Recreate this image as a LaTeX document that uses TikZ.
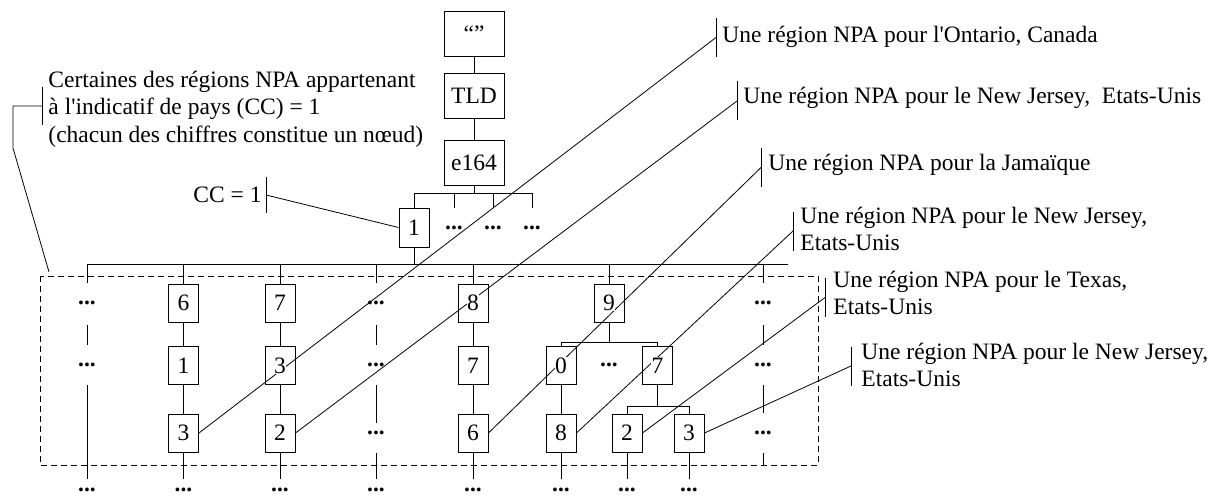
\documentclass[tikz,border=0pt]{standalone}
\usepackage{fontspec}
\setmainfont{Liberation Serif}[Ligatures=TeXOff]
\usetikzlibrary{calc}
\pgfdeclarelayer{bg}
\pgfsetlayers{bg,main}
\newcommand\wb[1]{{\setlength{\fboxsep}{0.6pt}\colorbox{white}{#1}}}
\newcommand\tstrut{\rule{0pt}{18pt}}
\begin{document}
\begin{tikzpicture}[x=1pt,y=-1pt, line width=0.9pt,
  font=\fontsize{23.5}{27.3}\selectfont,
  tbox/.style={draw, minimum width=60, minimum height=45, inner sep=0},
  dbox/.style={draw, minimum width=30, minimum height=38, inner sep=0},
  elip/.style={inner sep=0, font=\fontsize{23.5}{27.3}\selectfont\bfseries},
  txt/.style={inner sep=0, anchor=north west, align=left},
  leader/.style={line width=0.8pt},
  dashbox/.style={dash pattern=on 6pt off 4pt, line width=0.9pt},
]
\useasboundingbox (0,0) rectangle (1225,497);

% top chain
\node[tbox] (root) at (474,34) {“”};
\node[tbox] (tld) at (474,95.5) {TLD};
\node[tbox] (e164) at (474,163) {e164};
\draw (root) -- (tld);
\draw (tld) -- (e164);
\coordinate (br0) at (474,193);
\coordinate (br0l) at (414,193);
\coordinate (br0r) at (532,193);
\draw (e164.south) -- (br0);
\draw (br0l) -- (br0r);
\node[dbox, minimum height=39] (cc) at (414,227.5) {\wb{1}};
\draw (br0l) -- (cc.north);
\foreach \x/\n in {454/la,493/lb,532/lc}{
  \draw (\x,193) -- (\x,208);
  \node[elip] (\n) at (\x,228) {...};
}

% bus
\coordinate (bus) at (414,264);
\draw (cc.south) -- (bus);
\draw (87,264) -- (788,264);

% dashed region
\draw[dashbox] (40,276) rectangle (818,465);

% column A (dots)
\draw (87,264) -- (87,283);
\node[elip] (a1) at (87,303) {...};
\draw (87,325) -- (87,345);
\node[elip] (a2) at (87,365) {...};
\draw (87,385) -- (87,479);
\node[elip] (a4) at (87,490) {...};

% column B 6-1-3
\node[dbox] (b1) at (183.5,303) {\wb{6}};
\node[dbox] (b2) at (183.5,365.5) {\wb{1}};
\node[dbox] (b3) at (183.5,433) {\wb{3}};
\draw (183.5,264) -- (b1.north);
\draw (b1) -- (b2);
\draw (b2) -- (b3);
\draw (b3.south) -- (183.5,479);
\node[elip] (b4) at (183.5,490) {...};

% column C 7-3-2
\node[dbox] (c1) at (280,303) {\wb{7}};
\node[dbox] (c2) at (280,365.5) {\wb{3}};
\node[dbox] (c3) at (280,433) {\wb{2}};
\draw (280,264) -- (c1.north);
\draw (c1) -- (c2);
\draw (c2) -- (c3);
\draw (c3.south) -- (280,479);
\node[elip] (c4) at (280,490) {...};

% column D (dots)
\draw (376,264) -- (376,283);
\node[elip] (d1) at (376,303) {...};
\draw (376,325) -- (376,345);
\node[elip] (d2) at (376,365) {...};
\draw (376,385) -- (376,423);
\node[elip] (d3) at (376,433) {...};
\draw (376,453) -- (376,479);
\node[elip] (d4) at (376,490) {...};

% column E 8-7-6
\node[dbox] (e1) at (473,303) {\wb{8}};
\node[dbox] (e2) at (473,365.5) {\wb{7}};
\node[dbox] (e3) at (473,433) {\wb{6}};
\draw (473,264) -- (e1.north);
\draw (e1) -- (e2);
\draw (e2) -- (e3);
\draw (e3.south) -- (473,479);
\node[elip] (e4) at (473,490) {...};

% column F 9 ...
\node[dbox] (f1) at (609,303) {\wb{9}};
\draw (609,264) -- (f1.north);
\coordinate (fbr) at (609,342);
\draw (f1.south) -- (fbr);
\draw (561,342) -- (657.5,342);
\node[dbox] (f2) at (561,365.5) {\wb{0}};
\node[elip] (fd) at (609,365) {...};
\node[dbox] (f3) at (657.5,365.5) {\wb{7}};
\draw (561,342) -- (f2.north);
\draw (657.5,342) -- (f3.north);
\node[dbox] (f4) at (561,433) {\wb{8}};
\draw (f2) -- (f4);
\draw (f4.south) -- (561,479);
\node[elip] (f4d) at (561,490) {...};
\coordinate (gbr) at (657.5,406);
\draw (f3.south) -- (gbr);
\draw (627,406) -- (689,406);
\node[dbox] (f5) at (627,433) {\wb{2}};
\node[dbox] (f6) at (689,433) {\wb{3}};
\draw (627,406) -- (f5.north);
\draw (689,406) -- (f6.north);
\draw (f5.south) -- (627,479);
\draw (f6.south) -- (689,479);
\node[elip] (f5d) at (627,490) {...};
\node[elip] (f6d) at (689,490) {...};

% column G (dots)
\draw (763,264) -- (763,283);
\node[elip] (g1) at (763,303) {...};
\draw (763,325) -- (763,345);
\node[elip] (g2) at (763,365) {...};
\draw (763,385) -- (763,413);
\node[elip] (g3) at (763,433) {...};
\draw (763,453) -- (763,465);

% texts
\node[txt] (tl) at (48,69) {\tstrut Certaines des régions NPA appartenant\\à l'indicatif de pays (CC) = 1\\(chacun des chiffres constitue un nœud)};
\node[inner sep=0, anchor=base east] (tcc) at (262,203) {CC = 1};
\node[txt] (t1) at (722,24) {\tstrut Une région NPA pour l'Ontario, Canada};
\node[txt] (t2) at (743,85) {\tstrut Une région NPA pour le New Jersey,\ \ Etats-Unis};
\node[txt] (t3) at (768,152) {\tstrut Une région NPA pour la Jamaïque};
\node[txt] (t4) at (800,205) {\tstrut Une région NPA pour le New Jersey,\\Etats-Unis};
\node[txt] (t5) at (833,269) {\tstrut Une région NPA pour le Texas,\\Etats-Unis};
\node[txt] (t6) at (861,341) {\tstrut Une région NPA pour le New Jersey,\\Etats-Unis};

% bars
\coordinate (kl) at (42,106);
\coordinate (kc) at (266,195);
\coordinate (k1) at (716,37.5);
\coordinate (k2) at (737,101);
\coordinate (k3) at (761,167.5);
\coordinate (k4) at (793,231);
\coordinate (k5) at (825,297.5);
\coordinate (k6) at (851,366);
\draw[leader] (42,87) -- (42,125);
\draw[leader] (266,177) -- (266,213);
\foreach \k in {k1,k2,k3,k4,k5,k6}{
  \draw[leader] ($(\k)+(0,-19.5)$) -- ($(\k)+(0,19.5)$);
}

% leaders
\begin{pgfonlayer}{bg}
\coordinate (lc1) at (13,106);
\coordinate (lc2) at (13,148);
\coordinate (lc3) at (49,272);
\draw[leader] (kl) -- (lc1) -- (lc2) -- (lc3);
\draw[leader] (kc) -- (cc.west);
\draw[leader] (b3.east) -- (k1);
\draw[leader] (c3.east) -- (k2);
\draw[leader] (e3.east) -- (k3);
\draw[leader] (f4.east) -- (k4);
\draw[leader] (f5.east) -- (k5);
\draw[leader] (f6.east) -- (k6);
\end{pgfonlayer}
\end{tikzpicture}
\end{document}
